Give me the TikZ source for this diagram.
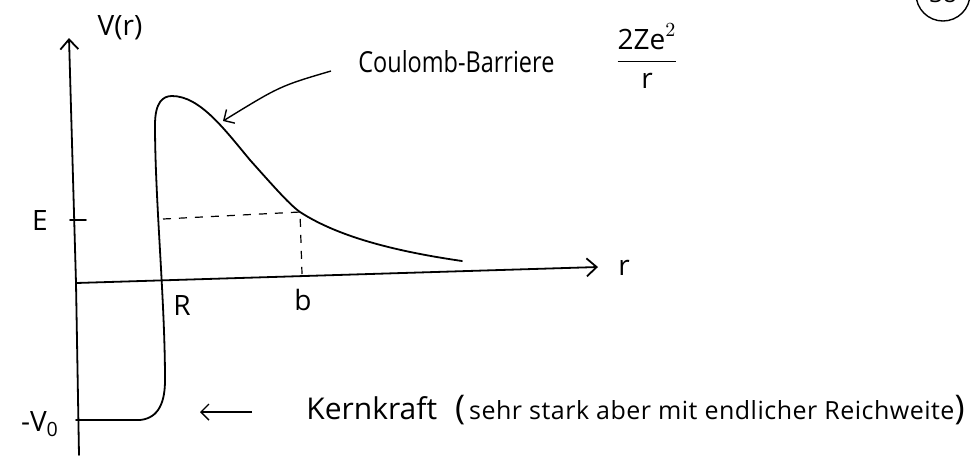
\documentclass[tikz,border=0pt]{standalone}
\usepackage{amsmath}
\usepackage{graphicx}
\usepackage{fontspec}
\setmainfont{Open Sans}
\usetikzlibrary{arrows.meta}

\begin{document}
\begin{tikzpicture}[
    x=0.5pt, y=-0.5pt,
    main line/.style={line width=0.9pt, draw=black, line cap=round, line join=round},
    axis line/.style={main line, -{Straight Barb[length=5pt, width=9pt, line width=0.9pt]}},
    pointer/.style={line width=0.7pt, draw=black, -{Straight Barb[length=4pt, width=8pt, line width=0.7pt]}},
    help line/.style={line width=0.6pt, draw=black, dash pattern=on 4pt off 4pt},
    axis label/.style={font=\fontsize{14}{16}\selectfont, inner sep=1pt},
    note label/.style={font=\fontsize{15}{18}\selectfont, inner sep=1pt}
]
\useasboundingbox (0,0) rectangle (978,462);
\clip (0,0) rectangle (978,462);

% Achsen: V(r) nach oben, r nach rechts
\coordinate (O)    at (76,283);
\coordinate (Ybot) at (79,455);
\coordinate (Ytop) at (69,38);
\coordinate (Xend) at (598,267);
\draw[main line] (Ybot) -- (O);
\draw[axis line] (O) -- (Ytop);
\draw[axis line] (O) -- (Xend);

\node[axis label] (Vr) at (120,28) {V(r)};
\node[axis label] (rr) at (624,268) {r};

% Energie E und Umkehrpunkt b
\coordinate (Etick) at (70,220);
\coordinate (Etip)  at (86,220);
\coordinate (Ea)    at (163,219);
\coordinate (Eb)    at (300,212);
\coordinate (Bfoot) at (302,274);
\draw[main line] (Etick) -- (Etip);
\draw[help line] (Ea) -- (Eb) -- (Bfoot);

\node[axis label] (E)  at (40,220) {E};
\node[axis label] (R)  at (182,305) {R};
\node[axis label] (b)  at (303,300) {b};
\node[axis label] (V0) at (40,424) {-V\textsubscript{0}};

% Potential: Topf -V0 bis R, dann Coulomb-Abfall
\coordinate (Well)  at (76,420);
\coordinate (Peak)  at (172,96);
\coordinate (Tail)  at (462,261);
\draw[main line] (Well) -- (140,420)
    .. controls (160,418) and (165,400) .. (165,380)
    .. controls (165,300) and (155,200) .. (155,125)
    .. controls (155,102) and (163,96) .. (Peak)
    .. controls (200,96) and (225,130) .. (250,160)
    .. controls (275,188) and (290,205) .. (Eb)
    .. controls (340,238) and (400,252) .. (Tail);

% Beschriftungen
\node[note label, anchor=west] (coul) at (356,62) {\resizebox{98pt}{11pt}{Coulomb-Barriere}};
\coordinate (coulStart) at (331,71);
\coordinate (coulEnd)   at (223,121);
\draw[pointer] (coulStart) .. controls (280,86) .. (coulEnd);

\node[font=\fontsize{14}{16}\selectfont, inner sep=1pt] (frac) at (647,56) {$\dfrac{\text{2Ze}^2}{\text{r}}$};

\coordinate (kernStart) at (252,412);
\coordinate (kernEnd)   at (200,412);
\draw[pointer] (kernStart) -- (kernEnd);
\node[anchor=west, inner sep=0pt] (kern) at (306,410)
    {\fontsize{15}{18}\selectfont Kernkraft\hspace{9pt}{\fontsize{17}{18}\selectfont(}\hspace{2pt}\fontsize{12.5}{14}\selectfont\addfontfeature{LetterSpace=2}sehr stark aber mit endlicher Reichweite{\fontsize{17}{18}\selectfont)}};

% Seitenzahl oben rechts
\node[draw, circle, line width=0.7pt, minimum size=27pt, font=\fontsize{12}{14}\selectfont] (seite) at (943,-6) {38};

\end{tikzpicture}
\end{document}
